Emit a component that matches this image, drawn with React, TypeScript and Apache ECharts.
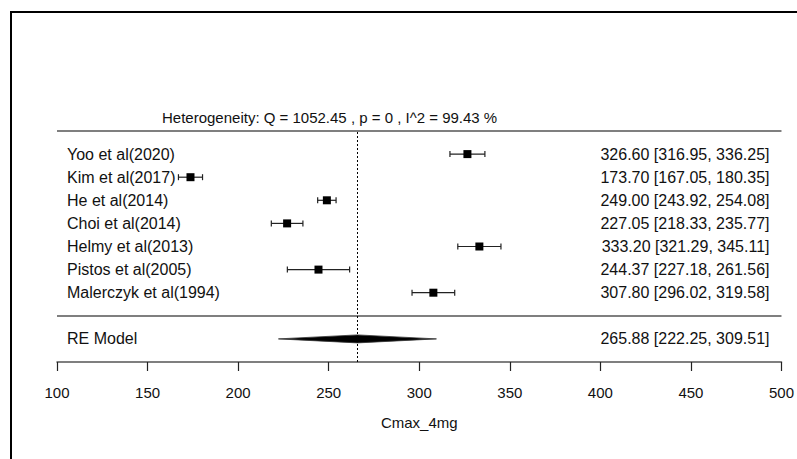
import React, { useEffect, useRef } from "react";
import * as echarts from "echarts";

// Study-level estimates of Cmax (4 mg) with 95% confidence intervals
const studies = [
  "Yoo et al(2020)",
  "Kim et al(2017)",
  "He et al(2014)",
  "Choi et al(2014)",
  "Helmy et al(2013)",
  "Pistos et al(2005)",
  "Malerczyk et al(1994)",
];
const estimates = [326.6, 173.7, 249.0, 227.05, 333.2, 244.37, 307.8];
const lowerCI = [316.95, 167.05, 243.92, 218.33, 321.29, 227.18, 296.02];
const upperCI = [336.25, 180.35, 254.08, 235.77, 345.11, 261.56, 319.58];

// Random-effects summary
const summaryLabel = "RE Model";
const summaryEstimate = 265.88;
const summaryLower = 222.25;
const summaryUpper = 309.51;

const heterogeneityText = "Heterogeneity: Q = 1052.45 , p = 0 , I^2 = 99.43 %";
const axisTitle = "Cmax_4mg";
const xTicks = { min: 100, max: 500, interval: 50 };

const FONT = "'Liberation Sans', Arial, Helvetica, sans-serif";
const TEXT_COLOR = "#111";
const RULE_COLOR = "#555";

const ciText = (e: number, l: number, u: number) =>
  `${e.toFixed(2)} [${l.toFixed(2)}, ${u.toFixed(2)}]`;

export default function App() {
  const ref = useRef<HTMLDivElement>(null);

  useEffect(() => {
    if (!ref.current) return;
    const chart = echarts.init(ref.current, undefined, { renderer: "svg" });

    const k = studies.length;
    // rows: first study on top (row k) down to row 1; summary at row -1
    const studyData = studies.map((name, i) => [
      estimates[i],
      lowerCI[i],
      upperCI[i],
      k - i,
      i,
    ]);

    const option: echarts.EChartsOption = {
      animation: false,
      grid: { left: 57, right: 13, top: 131, bottom: 97 },
      xAxis: {
        type: "value",
        min: xTicks.min,
        max: xTicks.max,
        interval: xTicks.interval,
        splitLine: { show: false },
        axisLine: {
          show: true,
          onZero: false,
          lineStyle: { color: RULE_COLOR, width: 1.5 },
        },
        axisTick: { show: true, length: 9, lineStyle: { color: "#222", width: 1.2 } },
        axisLabel: {
          color: TEXT_COLOR,
          fontFamily: FONT,
          fontSize: 15,
          margin: 23,
        },
        name: axisTitle,
        nameLocation: "middle",
        nameGap: 53,
        nameTextStyle: { color: TEXT_COLOR, fontFamily: FONT, fontSize: 15 },
      },
      yAxis: {
        type: "value",
        min: -2,
        max: k + 1,
        show: false,
      },
      graphic: [
        {
          type: "rect",
          shape: { x: 11, y: 12, width: 900, height: 600 },
          style: { fill: "none", stroke: "#000", lineWidth: 2 },
          silent: true,
        },
        {
          type: "text",
          style: {
            text: heterogeneityText,
            x: 162,
            y: 117,
            fill: TEXT_COLOR,
            font: `15px ${FONT}`,
            verticalAlign: "middle",
          },
          silent: true,
        },
      ],
      series: [
        {
          // header rule, separator rule and reference line at the summary estimate
          type: "line",
          data: [],
          markLine: {
            silent: true,
            symbol: "none",
            label: { show: false },
            data: [
              { yAxis: k + 1, lineStyle: { color: RULE_COLOR, width: 1.5, type: "solid" } },
              { yAxis: 0, lineStyle: { color: RULE_COLOR, width: 1.5, type: "solid" } },
              { xAxis: summaryEstimate, lineStyle: { color: "#000", width: 1, type: [2, 2] } },
            ],
          },
        },
        {
          type: "custom",
          data: studyData,
          renderItem: (params: any, api: any) => {
            const est = api.value(0);
            const lo = api.value(1);
            const hi = api.value(2);
            const row = api.value(3);
            const idx = api.value(4);
            const cs = params.coordSys;
            const pLo = api.coord([lo, row]);
            const pHi = api.coord([hi, row]);
            const pE = api.coord([est, row]);
            const half = 4;
            const cap = 3;
            const lineStyle = { stroke: "#222", lineWidth: 1.2 };
            return {
              type: "group",
              children: [
                {
                  type: "line",
                  shape: { x1: pLo[0], y1: pLo[1], x2: pHi[0], y2: pHi[1] },
                  style: lineStyle,
                },
                {
                  type: "line",
                  shape: { x1: pLo[0], y1: pLo[1] - cap, x2: pLo[0], y2: pLo[1] + cap },
                  style: lineStyle,
                },
                {
                  type: "line",
                  shape: { x1: pHi[0], y1: pHi[1] - cap, x2: pHi[0], y2: pHi[1] + cap },
                  style: lineStyle,
                },
                {
                  type: "rect",
                  shape: { x: pE[0] - half, y: pE[1] - half, width: half * 2, height: half * 2 },
                  style: { fill: "#000" },
                },
                {
                  type: "text",
                  style: {
                    text: studies[idx],
                    x: cs.x + 10,
                    y: pE[1],
                    fill: TEXT_COLOR,
                    font: `16px ${FONT}`,
                    align: "left",
                    verticalAlign: "middle",
                  },
                },
                {
                  type: "text",
                  style: {
                    text: ciText(est, lo, hi),
                    x: cs.x + cs.width - 12,
                    y: pE[1],
                    fill: TEXT_COLOR,
                    font: `16px ${FONT}`,
                    align: "right",
                    verticalAlign: "middle",
                  },
                },
              ],
            };
          },
        },
        {
          type: "custom",
          data: [[summaryEstimate, summaryLower, summaryUpper, -1]],
          renderItem: (params: any, api: any) => {
            const est = api.value(0);
            const lo = api.value(1);
            const hi = api.value(2);
            const row = api.value(3);
            const cs = params.coordSys;
            const pLo = api.coord([lo, row]);
            const pHi = api.coord([hi, row]);
            const pE = api.coord([est, row]);
            const h = 4;
            return {
              type: "group",
              children: [
                {
                  type: "polygon",
                  shape: {
                    points: [
                      [pLo[0], pLo[1]],
                      [pE[0], pE[1] - h],
                      [pHi[0], pHi[1]],
                      [pE[0], pE[1] + h],
                    ],
                  },
                  style: { fill: "#000", stroke: "#333", lineWidth: 0.8 },
                },
                {
                  type: "text",
                  style: {
                    text: summaryLabel,
                    x: cs.x + 10,
                    y: pE[1],
                    fill: TEXT_COLOR,
                    font: `16px ${FONT}`,
                    align: "left",
                    verticalAlign: "middle",
                  },
                },
                {
                  type: "text",
                  style: {
                    text: ciText(est, lo, hi),
                    x: cs.x + cs.width - 12,
                    y: pE[1],
                    fill: TEXT_COLOR,
                    font: `16px ${FONT}`,
                    align: "right",
                    verticalAlign: "middle",
                  },
                },
              ],
            };
          },
        },
      ],
    };

    chart.setOption(option);
    return () => chart.dispose();
  }, []);

  return (
    <div
      ref={ref}
      style={{ position: "fixed", left: 0, top: 0, width: 797, height: 459, background: "#fff" }}
    />
  );
}
